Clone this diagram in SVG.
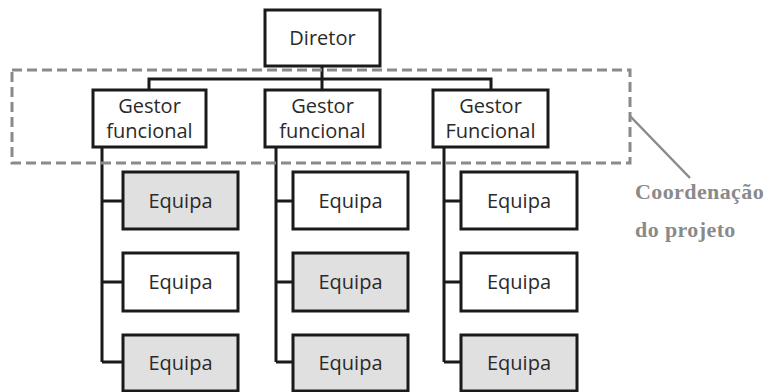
<svg xmlns="http://www.w3.org/2000/svg" width="767" height="392" viewBox="0 0 767 392">
  <style>
    .box { fill: #ffffff; stroke: #1a1a1a; stroke-width: 3; }
    .shade { fill: #e0e0e0; }
    .lbl { font-family: "Open Sans", "Noto Sans", sans-serif; font-size: 20px; fill: #2a2a2a; text-anchor: middle; }
    .wire { fill: none; stroke: #1a1a1a; stroke-width: 3; }
    .zone { fill: none; stroke: #8a8a8a; stroke-width: 3; stroke-dasharray: 10 5; }
    .note { font-family: "Liberation Serif", "Times New Roman", serif; font-weight: bold; font-size: 22px; fill: #8a8a8a; letter-spacing: 0.4px; }
  </style>
  <rect width="767" height="392" fill="#ffffff"/>

  <!-- connectors -->
  <g id="connectors">
    <path class="wire" d="M322 66 V79 M149 90 V79 H491 V90 M322 79 V90"/>
    <path class="wire" d="M102 147 V362 M102 201 H123 M102 282 H123 M102 362 H123"/>
    <path class="wire" d="M276 147 V362 M276 201 H293 M276 282 H293 M276 362 H293"/>
    <path class="wire" d="M444 147 V362 M444 201 H461 M444 282 H461 M444 362 H461"/>
  </g>

  <!-- project coordination zone -->
  <g id="coordination">
    <rect class="zone" x="12" y="70" width="618" height="93"/>
    <line x1="630" y1="116" x2="690" y2="178" stroke="#8a8a8a" stroke-width="2.5"/>
    <text class="note" x="635" y="199">Coordenação</text>
    <text class="note" x="635" y="237">do projeto</text>
  </g>

  <g id="diretor">
    <rect class="box" x="265" y="10" width="115" height="56"/>
    <text class="lbl" x="322.5" y="45">Diretor</text>
  </g>

  <g id="gestor-1">
    <rect class="box" x="93" y="90" width="113" height="57"/>
    <text class="lbl" x="149.5" y="113">Gestor</text>
    <text class="lbl" x="149.5" y="138">funcional</text>
  </g>
  <g id="gestor-2">
    <rect class="box" x="265" y="90" width="115" height="57"/>
    <text class="lbl" x="322.5" y="113">Gestor</text>
    <text class="lbl" x="322.5" y="138">funcional</text>
  </g>
  <g id="gestor-3">
    <rect class="box" x="433" y="90" width="115" height="57"/>
    <text class="lbl" x="490.5" y="113">Gestor</text>
    <text class="lbl" x="490.5" y="138">Funcional</text>
  </g>

  <!-- teams, column 1 -->
  <g id="equipa-1-1">
    <rect class="box shade" x="123" y="172" width="115" height="57"/>
    <text class="lbl" x="180.5" y="208">Equipa</text>
  </g>
  <g id="equipa-1-2">
    <rect class="box" x="123" y="253" width="115" height="58"/>
    <text class="lbl" x="180.5" y="289">Equipa</text>
  </g>
  <g id="equipa-1-3">
    <rect class="box shade" x="123" y="335" width="115" height="56"/>
    <text class="lbl" x="180.5" y="370">Equipa</text>
  </g>

  <!-- teams, column 2 -->
  <g id="equipa-2-1">
    <rect class="box" x="293" y="172" width="115" height="57"/>
    <text class="lbl" x="350.5" y="208">Equipa</text>
  </g>
  <g id="equipa-2-2">
    <rect class="box shade" x="293" y="253" width="115" height="58"/>
    <text class="lbl" x="350.5" y="289">Equipa</text>
  </g>
  <g id="equipa-2-3">
    <rect class="box shade" x="293" y="335" width="115" height="56"/>
    <text class="lbl" x="350.5" y="370">Equipa</text>
  </g>

  <!-- teams, column 3 -->
  <g id="equipa-3-1">
    <rect class="box" x="461" y="172" width="116" height="57"/>
    <text class="lbl" x="519" y="208">Equipa</text>
  </g>
  <g id="equipa-3-2">
    <rect class="box" x="461" y="253" width="116" height="58"/>
    <text class="lbl" x="519" y="289">Equipa</text>
  </g>
  <g id="equipa-3-3">
    <rect class="box shade" x="461" y="335" width="116" height="56"/>
    <text class="lbl" x="519" y="370">Equipa</text>
  </g>
</svg>
